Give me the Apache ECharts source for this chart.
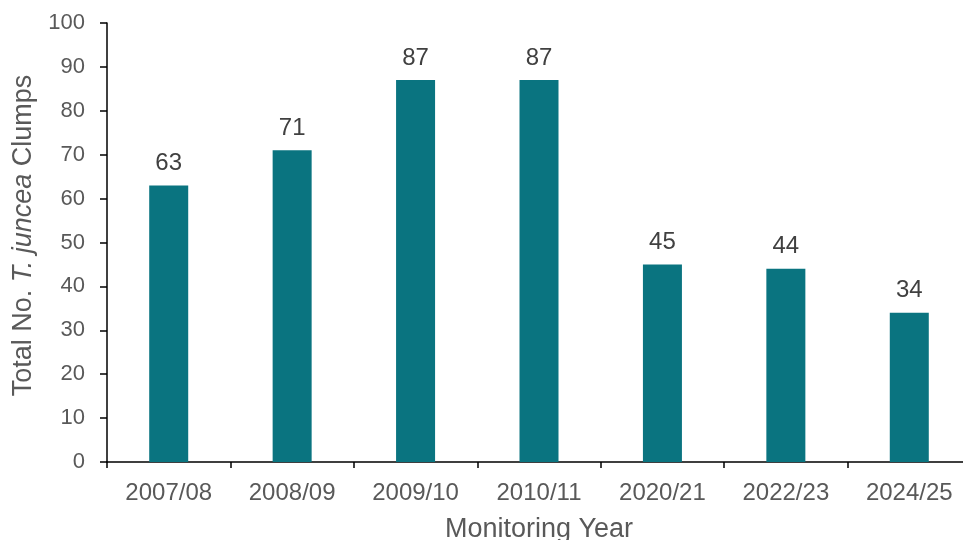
<!DOCTYPE html>
<html>
<head>
<meta charset="utf-8">
<script src="https://cdn.jsdelivr.net/npm/echarts@6/dist/echarts.min.js"></script>
<style>
  html, body { margin: 0; padding: 0; background: #fff; }
  #chart { width: 963px; height: 540px; }
</style>
</head>
<body>
<div id="chart"></div>
<script>
// Monitoring seasons and clump counts
const years = ['2007/08', '2008/09', '2009/10', '2010/11', '2020/21', '2022/23', '2024/25'];
const clumps = [63, 71, 87, 87, 45, 44, 34];
const yTicks = [0, 10, 20, 30, 40, 50, 60, 70, 80, 90, 100];

const FONT = '"Liberation Sans", Arial, sans-serif';
const chart = echarts.init(document.getElementById('chart'), null, { renderer: 'canvas' });

chart.setOption({
  backgroundColor: '#ffffff',
  animation: false,
  textStyle: { fontFamily: FONT },
  // the plot area runs a little past the right edge of the canvas
  grid: { left: 107, top: 23, width: 864, height: 439, containLabel: false, outerBoundsMode: 'none' },
  xAxis: {
    type: 'category',
    data: years,
    name: 'Monitoring Year',
    nameLocation: 'middle',
    nameGap: 54,
    nameTextStyle: { color: '#595959', fontSize: 27, fontFamily: FONT },
    axisLine: { lineStyle: { color: '#000', width: 1.5 } },
    axisTick: { show: true, alignWithLabel: false, length: 6, lineStyle: { color: '#000', width: 1.5 } },
    axisLabel: { color: '#595959', fontSize: 24, margin: 19, fontFamily: FONT }
  },
  yAxis: {
    type: 'value',
    min: yTicks[0],
    max: yTicks[yTicks.length - 1],
    interval: 10,
    name: '{n|Total No. }{i|T. juncea}{n| Clumps}',
    nameLocation: 'middle',
    nameGap: 70,
    nameRotate: 90,
    nameTextStyle: {
      padding: [0, 0, 0, 14],
      rich: {
        n: { color: '#595959', fontSize: 27, fontFamily: FONT },
        i: { color: '#595959', fontSize: 27, fontStyle: 'italic', fontFamily: FONT }
      }
    },
    splitLine: { show: false },
    axisLine: { show: true, lineStyle: { color: '#000', width: 1.5 } },
    axisTick: { show: true, length: 7, lineStyle: { color: '#000', width: 1.5 } },
    axisLabel: { color: '#595959', fontSize: 22, margin: 22, fontFamily: FONT }
  },
  series: [{
    type: 'bar',
    data: clumps,
    barWidth: '31.6%',
    itemStyle: { color: '#0a7480' },
    label: {
      show: true,
      position: 'top',
      distance: 10,
      color: '#404040',
      fontSize: 24,
      fontFamily: FONT
    }
  }]
});
</script>
</body>
</html>
